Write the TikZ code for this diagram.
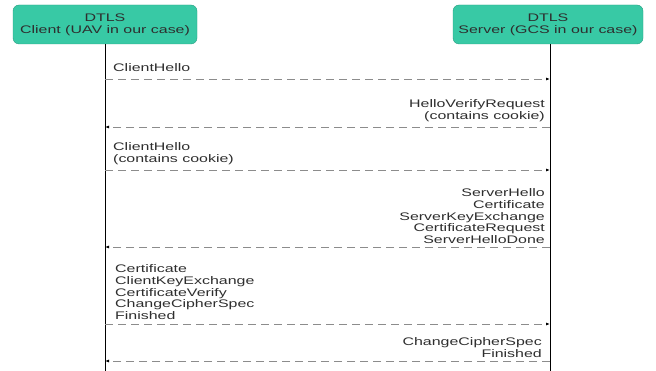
\documentclass[tikz,border=0pt]{standalone}
\usepackage{fontspec}
\setmainfont[FakeStretch=1.45]{Liberation Sans}
\usetikzlibrary{arrows.meta}
\definecolor{boxfill}{HTML}{38C9A5}
\definecolor{boxdraw}{HTML}{2A9E82}
\definecolor{dashgray}{HTML}{8C8C8C}
\definecolor{txt}{HTML}{2E2E2E}
\begin{document}
\begin{tikzpicture}[x=1pt,y=-1pt,
  actor/.style={draw=boxdraw,fill=boxfill,rounded corners=6pt,minimum width=#1,minimum height=39pt,
    align=center,font=\fontsize{11}{12}\selectfont,text=txt,inner sep=1pt},
  lifeline/.style={draw=black,line width=0.7pt},
  msg/.style={draw=dashgray,line width=0.9pt,dash pattern=on 8pt off 5pt,-{Latex[length=4pt,width=3pt,black]}},
  lbl/.style={font=\fontsize{11}{11.8}\selectfont,text=txt,inner sep=0pt}]
\useasboundingbox (0,0) rectangle (656,371);
\node[actor=184pt] (cl) at (105,24.5) {DTLS\\Client (UAV in our case)};
\node[actor=190pt] (sv) at (548,24.5) {DTLS\\Server (GCS in our case)};
\coordinate (cb) at (105,371);
\coordinate (sb) at (550,371);
\draw[lifeline] (cl.south) -- (cb);
\draw[lifeline] (sv.south-|sb) -- (sb);
% message anchor coordinates
\foreach \n/\y in {1/79,2/127,3/170,4/247,5/324,6/361}{
  \coordinate (c\n) at (105,\y);
  \coordinate (s\n) at (550,\y);
}
\draw[msg] (c1) -- (s1);
\draw[msg] (s2) -- (c2);
\draw[msg] (c3) -- (s3);
\draw[msg] (s4) -- (c4);
\draw[msg] (c5) -- (s5);
\draw[msg] (s6) -- (c6);
\node[lbl,anchor=base west,align=left] (m1) at (113,72) {ClientHello};
\node[lbl,anchor=south east,align=right] (m2) at (545,122) {HelloVerifyRequest\\(contains cookie)};
\node[lbl,anchor=south west,align=left] (m3) at (113,165) {ClientHello\\(contains cookie)};
\node[lbl,anchor=south east,align=right] (m4) at (545,244) {ServerHello\\Certificate\\ServerKeyExchange\\CertificateRequest\\ServerHelloDone};
\node[lbl,anchor=south west,align=left] (m5) at (115,320) {Certificate\\ClientKeyExchange\\CertificateVerify\\ChangeCipherSpec\\Finished};
\node[lbl,anchor=south east,align=right] (m6) at (542,358) {ChangeCipherSpec\\Finished};
\end{tikzpicture}
\end{document}
